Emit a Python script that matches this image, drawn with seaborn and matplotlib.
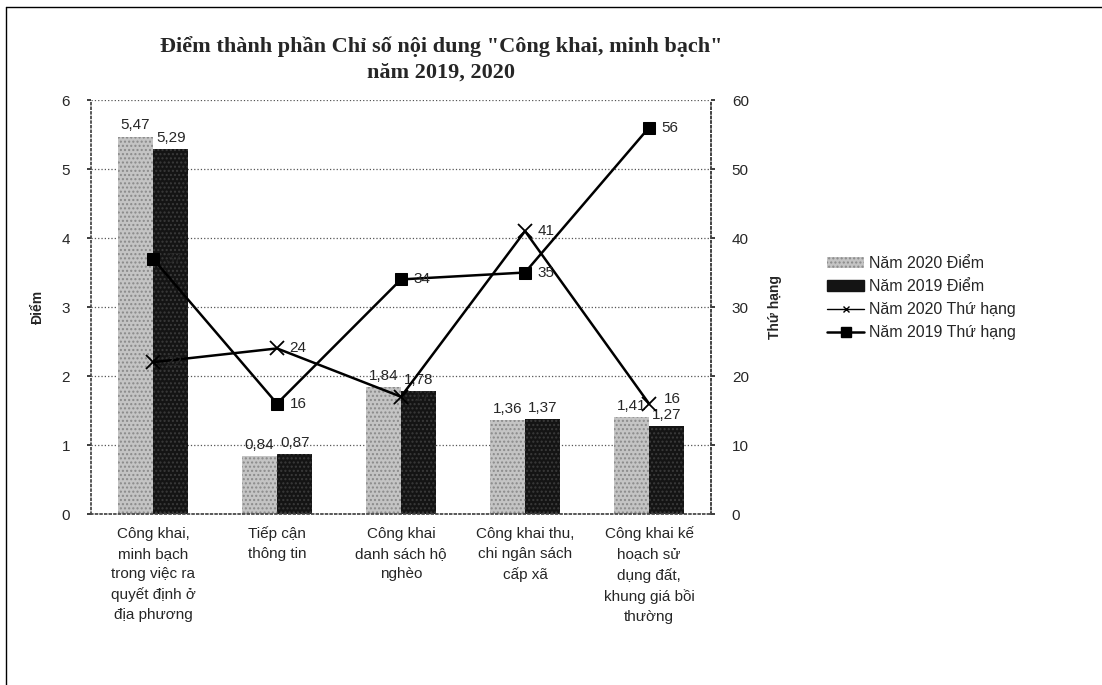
import numpy as np
import pandas as pd
import seaborn as sns
import matplotlib.pyplot as plt
from matplotlib.lines import Line2D
from matplotlib.patches import Patch

# --- dữ liệu ---
categories = [
    "Công khai,\nminh bạch\ntrong việc ra\nquyết định ở\nđịa phương",
    "Tiếp cận\nthông tin",
    "Công khai\ndanh sách hộ\nnghèo",
    "Công khai thu,\nchi ngân sách\ncấp xã",
    "Công khai kế\nhoạch sử\ndụng đất,\nkhung giá bồi\nthường",
]
diem_2020 = [5.47, 0.84, 1.84, 1.36, 1.41]
diem_2019 = [5.29, 0.87, 1.78, 1.37, 1.27]
hang_2020 = [22, 24, 17, 41, 16]
hang_2019 = [37, 16, 34, 35, 56]
series_bar = ["Năm 2020 Điểm", "Năm 2019 Điểm"]
series_line = ["Năm 2020 Thứ hạng", "Năm 2019 Thứ hạng"]

LIGHT = "#c4c4c4"
DARK = "#141414"

sns.set_theme(style="white")
plt.rcParams['font.family'] = ['Liberation Sans', 'DejaVu Sans']

df = pd.DataFrame({
    "cat": categories * 2,
    "series": [series_bar[0]] * 5 + [series_bar[1]] * 5,
    "diem": diem_2020 + diem_2019,
})

fig = plt.figure(figsize=(11.02, 6.85), dpi=100)
ax = fig.add_axes([0.0826, 0.2496, 0.5626, 0.6044])

sns.barplot(data=df, x="cat", y="diem", hue="series",
            palette=[LIGHT, DARK], width=0.57, ax=ax, legend=False,
            saturation=1, edgecolor="none")

# texture cho cột
for bar in ax.containers[0]:
    bar.set_hatch("....")
    bar.set_edgecolor("#8a8a8a")
    bar.set_linewidth(0)
for bar in ax.containers[1]:
    bar.set_hatch("....")
    bar.set_edgecolor("#3a3a3a")
    bar.set_linewidth(0)

for cont, vals in zip(ax.containers, [diem_2020, diem_2019]):
    ax.bar_label(cont, labels=[f"{v:.2f}".replace(".", ",") for v in vals],
                 padding=3, fontsize=11)

ax.set_ylim(0, 6)
ax.set_yticks(range(0, 7))
ax.set_xlim(-0.5, 4.5)
ax.set_xlabel("")
ax.set_ylabel("Điểm", fontsize=10, fontweight="bold", labelpad=12)
ax.grid(axis="y", linestyle=":", color="#555555", linewidth=0.9)
ax.set_axisbelow(True)
ax.tick_params(axis="x", labelsize=11, length=0, pad=9)
ax.tick_params(axis="y", labelsize=11, length=3, left=True, direction="out", pad=12)
for lbl in ax.get_xticklabels():
    lbl.set_linespacing(1.55)
    lbl.set_va("top")

for s in ["left", "bottom", "right"]:
    ax.spines[s].set_linestyle(":")
    ax.spines[s].set_color("#444444")
ax.spines["top"].set_visible(False)

# --- trục phải: thứ hạng ---
ax2 = ax.twinx()
xs = np.arange(len(categories))
sns.lineplot(x=xs, y=hang_2020, ax=ax2, color="black", lw=1.8,
             marker="x", markersize=10, markeredgewidth=1.3,
             markeredgecolor="black")
sns.lineplot(x=xs, y=hang_2019, ax=ax2, color="black", lw=1.8,
             marker="s", markersize=8, markeredgecolor="black")
for x, v in zip(xs, hang_2020):
    off = (11, 3) if x == 4 else (9, 0)
    ax2.annotate(str(v), (x, v), xytext=off, textcoords="offset points",
                 va="center", ha="left", fontsize=11)
for x, v in zip(xs, hang_2019):
    ax2.annotate(str(v), (x, v), xytext=(9, 0), textcoords="offset points",
                 va="center", ha="left", fontsize=11)

ax2.set_ylim(0, 60)
ax2.set_yticks(range(0, 61, 10))
ax2.set_ylabel("Thứ hạng", fontsize=10, fontweight="bold", labelpad=14)
ax2.tick_params(axis="y", labelsize=11, length=3, right=True, direction="out", pad=12)
ax2.grid(False)
for s in ["top", "left", "bottom"]:
    ax2.spines[s].set_visible(False)
ax2.spines["right"].set_linestyle(":")
ax2.spines["right"].set_color("#444444")

# --- tiêu đề ---
fig.text(0.40, 0.948, "Điểm thành phần Chỉ số nội dung \"Công khai, minh bạch\"\nnăm 2019, 2020",
         ha="center", va="top", fontsize=16, fontweight="bold",
         family=["Liberation Serif", "DejaVu Serif"], linespacing=1.4)

# --- chú thích ---
handles = [
    Patch(facecolor=LIGHT, hatch="....", edgecolor="#8a8a8a", linewidth=0),
    Patch(facecolor=DARK, edgecolor=DARK),
    Line2D([], [], color="black", lw=1, marker="x", markersize=4),
    Line2D([], [], color="black", lw=1.8, marker="s", markersize=7),
]
fig.legend(handles, series_bar + series_line, loc="upper left",
           bbox_to_anchor=(0.745, 0.635), frameon=False, fontsize=11.5,
           handlelength=2.3, handletextpad=0.3, labelspacing=0.5,
           borderaxespad=0)

# khung
fig.add_artist(Line2D([0.005, 1.0], [0.99, 0.99], color="black", lw=1))
fig.add_artist(Line2D([0.005, 0.005], [0.0, 0.99], color="black", lw=1))

fig.savefig("out.png", dpi=100)
